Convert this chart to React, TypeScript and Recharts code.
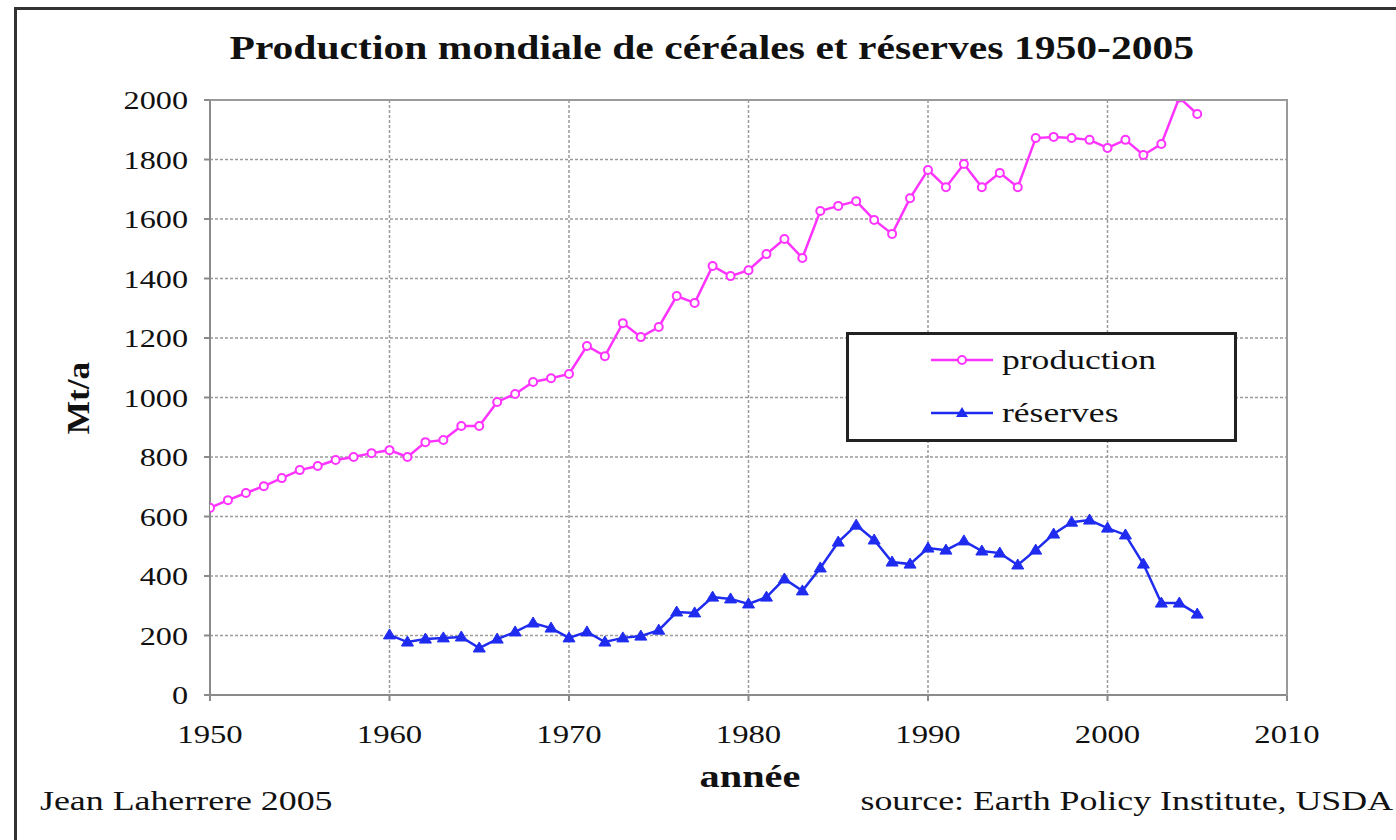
import { LineChart, Line, XAxis, YAxis, CartesianGrid } from 'recharts';

const years = [
  1950, 1951, 1952, 1953, 1954, 1955, 1956, 1957, 1958, 1959,
  1960, 1961, 1962, 1963, 1964, 1965, 1966, 1967, 1968, 1969,
  1970, 1971, 1972, 1973, 1974, 1975, 1976, 1977, 1978, 1979,
  1980, 1981, 1982, 1983, 1984, 1985, 1986, 1987, 1988, 1989,
  1990, 1991, 1992, 1993, 1994, 1995, 1996, 1997, 1998, 1999,
  2000, 2001, 2002, 2003, 2004, 2005,
];

// Mt/a
const production = [
  629, 655, 679, 702, 729, 756, 770, 790, 800, 813,
  823, 800, 850, 857, 904, 904, 985, 1012, 1052, 1065,
  1079, 1173, 1139, 1250, 1203, 1237, 1341, 1318, 1442, 1408,
  1428, 1482, 1533, 1469, 1627, 1644, 1660, 1597, 1550, 1670,
  1765, 1707, 1785, 1707, 1755, 1707, 1872, 1876, 1872, 1866,
  1839, 1866, 1815, 1852, 2008, 1953,
];

// starts in 1960
const reservesStart = 1960;
const reserves = [
  202, 178, 188, 192, 195, 158, 188, 212, 242, 225,
  192, 212, 178, 192, 198, 218, 279, 276, 329, 323,
  306, 329, 390, 350, 427, 514, 571, 521, 447, 440,
  494, 487, 518, 484, 477, 437, 487, 541, 581, 588,
  561, 538, 440, 309, 309, 272,
];

const xTicks = [1950, 1960, 1970, 1980, 1990, 2000, 2010];
const yTicks = [0, 200, 400, 600, 800, 1000, 1200, 1400, 1600, 1800, 2000];

const data = years.map((year, i) => ({
  year,
  production: production[i],
  reserves: year >= reservesStart ? reserves[year - reservesStart] : null,
}));

const serif = '"Liberation Serif", "DejaVu Serif", serif';
const PINK = '#ff33ff';
const BLUE = '#1f2cf0';

const XTick = ({ x, y, payload }: any) => (
  <g transform={`translate(${x},${y + 40}) scale(1.26,1)`}>
    <text textAnchor="middle" fontFamily={serif} fontSize={26} fill="#111">
      {payload.value}
    </text>
  </g>
);

const YTick = ({ x, y, payload }: any) => (
  <g transform={`translate(${x - 14},${y + 9}) scale(1.24,1)`}>
    <text textAnchor="end" fontFamily={serif} fontSize={26} fill="#111">
      {payload.value}
    </text>
  </g>
);

const Triangle = ({ cx, cy, key }: any) => {
  if (cx == null || cy == null) return <g key={key} />;
  return (
    <path
      key={key}
      d={`M${cx},${cy - 6} L${cx + 6},${cy + 4} L${cx - 6},${cy + 4} Z`}
      fill={BLUE}
      stroke={BLUE}
    />
  );
};

const legendItems = [
  { name: 'production', color: PINK, marker: 'circle', top: 25 },
  { name: 'réserves', color: BLUE, marker: 'triangle', top: 78 },
];

export default function App() {
  return (
    <div style={{ position: 'absolute', left: 0, top: 0, width: 1396, height: 840, background: '#fff', overflow: 'hidden' }}>
      {/* outer frame */}
      <div style={{ position: 'absolute', left: 14, top: 7, width: 1400, height: 900, border: '3px solid #333', boxSizing: 'border-box' }} />

      <LineChart
        width={1396}
        height={840}
        data={data}
        margin={{ top: 100, right: 109, bottom: 95, left: 130 }}
        style={{ position: 'absolute', left: 0, top: 0 }}
      >
        <CartesianGrid stroke="#9a9a9a" strokeDasharray="3 2" strokeWidth={1.5} />
        <XAxis
          type="number"
          dataKey="year"
          domain={[1950, 2010]}
          ticks={xTicks}
          height={50}
          tick={<XTick />}
          tickSize={6}
          stroke="#8a8a8a"
          strokeWidth={2}
          allowDataOverflow
        />
        <YAxis
          domain={[0, 2000]}
          ticks={yTicks}
          width={80}
          tick={<YTick />}
          tickSize={6}
          stroke="#8a8a8a"
          strokeWidth={2}
          allowDataOverflow
        />
        <Line
          dataKey="production"
          stroke={PINK}
          strokeWidth={2.5}
          dot={{ r: 4, fill: '#fff', stroke: PINK, strokeWidth: 2 }}
          isAnimationActive={false}
        />
        <Line
          dataKey="reserves"
          stroke={BLUE}
          strokeWidth={2.5}
          dot={<Triangle />}
          connectNulls={false}
          isAnimationActive={false}
        />
      </LineChart>

      {/* top and right border of plot area */}
      <div style={{ position: 'absolute', left: 210, top: 99, width: 1078, height: 0, borderTop: '2px solid #9a9a9a' }} />
      <div style={{ position: 'absolute', left: 1286, top: 99, width: 0, height: 597, borderLeft: '2px solid #9a9a9a' }} />

      <div style={{ position: 'absolute', left: 232, top: 30, width: 960, textAlign: 'center', fontFamily: serif, fontWeight: 'bold', fontSize: 33, color: '#111', whiteSpace: 'nowrap' }}>
        <span style={{ display: 'inline-block', transform: 'scaleX(1.26)' }}>Production mondiale de céréales et réserves 1950-2005</span>
      </div>

      <div style={{ position: 'absolute', left: 78, top: 398, transform: 'translate(-50%,-50%) rotate(-90deg) scaleX(1.1)', fontFamily: serif, fontWeight: 'bold', fontSize: 32, color: '#111', whiteSpace: 'nowrap' }}>
        Mt/a
      </div>

      <div style={{ position: 'absolute', left: 750, top: 776, transform: 'translate(-50%,-50%) scaleX(1.26)', fontFamily: serif, fontWeight: 'bold', fontSize: 32, color: '#111' }}>
        année
      </div>

      <div style={{ position: 'absolute', left: 40, top: 785, fontFamily: serif, fontSize: 28, color: '#111', whiteSpace: 'nowrap', transformOrigin: 'left center', transform: 'scaleX(1.28)' }}>
        Jean Laherrere 2005
      </div>
      <div style={{ position: 'absolute', right: 3, top: 785, fontFamily: serif, fontSize: 28, color: '#111', whiteSpace: 'nowrap', transformOrigin: 'right center', transform: 'scaleX(1.28)' }}>
        source: Earth Policy Institute, USDA
      </div>

      {/* legend */}
      <div style={{ position: 'absolute', left: 846, top: 332, width: 391, height: 110, border: '3px solid #222', boxSizing: 'border-box', background: '#fff' }}>
        {legendItems.map((item) => (
          <div key={item.name} style={{ position: 'absolute', left: 81, top: item.top - 16, height: 32, display: 'flex', alignItems: 'center' }}>
            <svg width={64} height={20}>
              <line x1={1} y1={10} x2={63} y2={10} stroke={item.color} strokeWidth={2.5} />
              {item.marker === 'circle' ? (
                <circle cx={32} cy={10} r={4} fill="#fff" stroke={item.color} strokeWidth={2} />
              ) : (
                <path d="M32,4 L38,14 L26,14 Z" fill={item.color} />
              )}
            </svg>
            <span style={{ marginLeft: 8, fontFamily: serif, fontSize: 28, color: '#111', display: 'inline-block', transformOrigin: 'left center', transform: 'scaleX(1.27)' }}>
              {item.name}
            </span>
          </div>
        ))}
      </div>
    </div>
  );
}
